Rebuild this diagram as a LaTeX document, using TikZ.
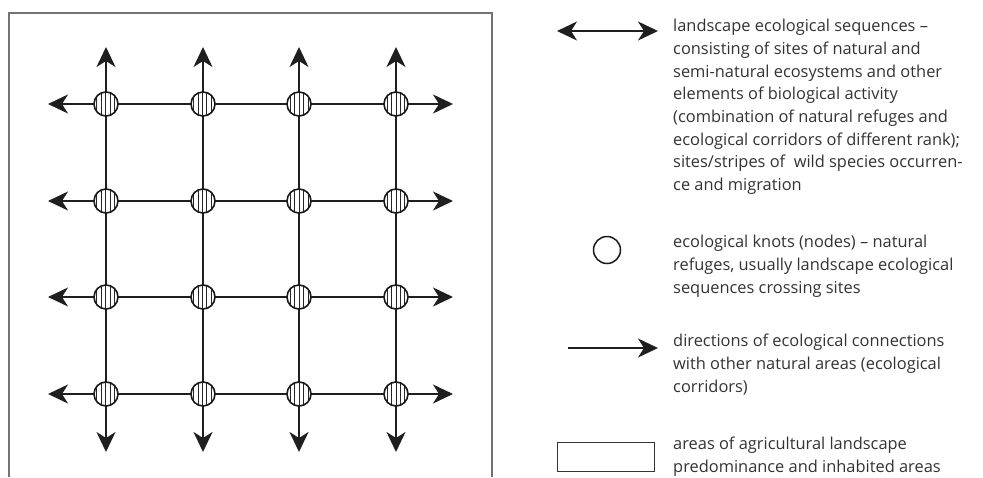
\documentclass[tikz,border=0pt]{standalone}
\usepackage{fontspec}
\setmainfont{Open Sans}
\usetikzlibrary{arrows.meta,patterns.meta}
\definecolor{txt}{gray}{0.2}
\definecolor{frm}{gray}{0.45}
\tikzset{
  knot/.style={circle, draw=black!90, line width=1.6pt, minimum size=24pt, inner sep=0pt,
    preaction={fill=white}, pattern={Lines[angle=90,distance=4.4pt,line width=0.9pt]}, pattern color=black!85},
  link/.style={line width=1.8pt, draw=black!88},
  outarrow/.style={link, -{Stealth[length=20pt,width=19pt,inset=6pt]}},
  legtext/.style={anchor=north west, align=left, text=txt, font=\fontsize{16.4pt}{22.7pt}\selectfont, inner sep=0pt},
  framebox/.style={draw=frm, line width=1.2pt}
}
\begin{document}
\begin{tikzpicture}[x=1pt,y=-1pt]
\useasboundingbox (0,0) rectangle (983,477);
% frame
\draw[framebox] (9,477) -- (9,13) -- (492,13) -- (492,477);
% grid
\foreach \i/\x in {1/106,2/203,3/299,4/396}{
  \foreach \j/\y in {1/104,2/201,3/297,4/394}{
    \coordinate (p\i\j) at (\x,\y);
  }
  \coordinate (up\i) at (\x,47);
  \coordinate (dn\i) at (\x,452);
}
\foreach \j/\y in {1/104,2/201,3/297,4/394}{
  \coordinate (lf\j) at (48,\y);
  \coordinate (rt\j) at (453,\y);
}
% links (lines between knot centres, drawn under the knots)
\foreach \j in {1,2,3,4}{
  \draw[link] (p1\j) -- (p2\j) -- (p3\j) -- (p4\j);
  \draw[outarrow] (p1\j) -- (lf\j);
  \draw[outarrow] (p4\j) -- (rt\j);
}
\foreach \i in {1,2,3,4}{
  \draw[link] (p\i1) -- (p\i2) -- (p\i3) -- (p\i4);
  \draw[outarrow] (p\i1) -- (up\i);
  \draw[outarrow] (p\i4) -- (dn\i);
}
\foreach \i in {1,2,3,4}{
  \foreach \j in {1,2,3,4}{
    \node[knot] (k\i\j) at (p\i\j) {};
  }
}
% legend
\coordinate (la1) at (557,31);
\coordinate (la2) at (658,31);
\draw[link, {Stealth[length=20pt,width=19pt,inset=6pt]}-{Stealth[length=20pt,width=19pt,inset=6pt]}] (la1) -- (la2);
\node[legtext] (t1) at (673,19) {landscape ecological sequences –\\
consisting of sites of natural and\\
semi-natural ecosystems and other\\
elements of biological activity\\
(combination of natural refuges and\\
ecological corridors of different rank);\\
sites/stripes of\ \ wild species occurren-\\
ce and migration};
\node[circle, draw=black!90, line width=1.5pt, minimum size=27pt, inner sep=0pt] (lk) at (607,250) {};
\node[legtext] (t2) at (673,235) {ecological knots (nodes) – natural\\
refuges, usually landscape ecological\\
sequences crossing sites};
\coordinate (lb1) at (568,348);
\coordinate (lb2) at (658,348);
\draw[outarrow] (lb1) -- (lb2);
\node[legtext] (t3) at (673,334) {directions of ecological connections\\
with other natural areas (ecological\\
corridors)};
\node[draw=black!80, line width=1pt, minimum width=97pt, minimum height=29pt, inner sep=0pt] (lr) at (606,457) {};
\node[legtext] (t4) at (673,437) {areas of agricultural landscape\\
predominance and inhabited areas};
\end{tikzpicture}
\end{document}
